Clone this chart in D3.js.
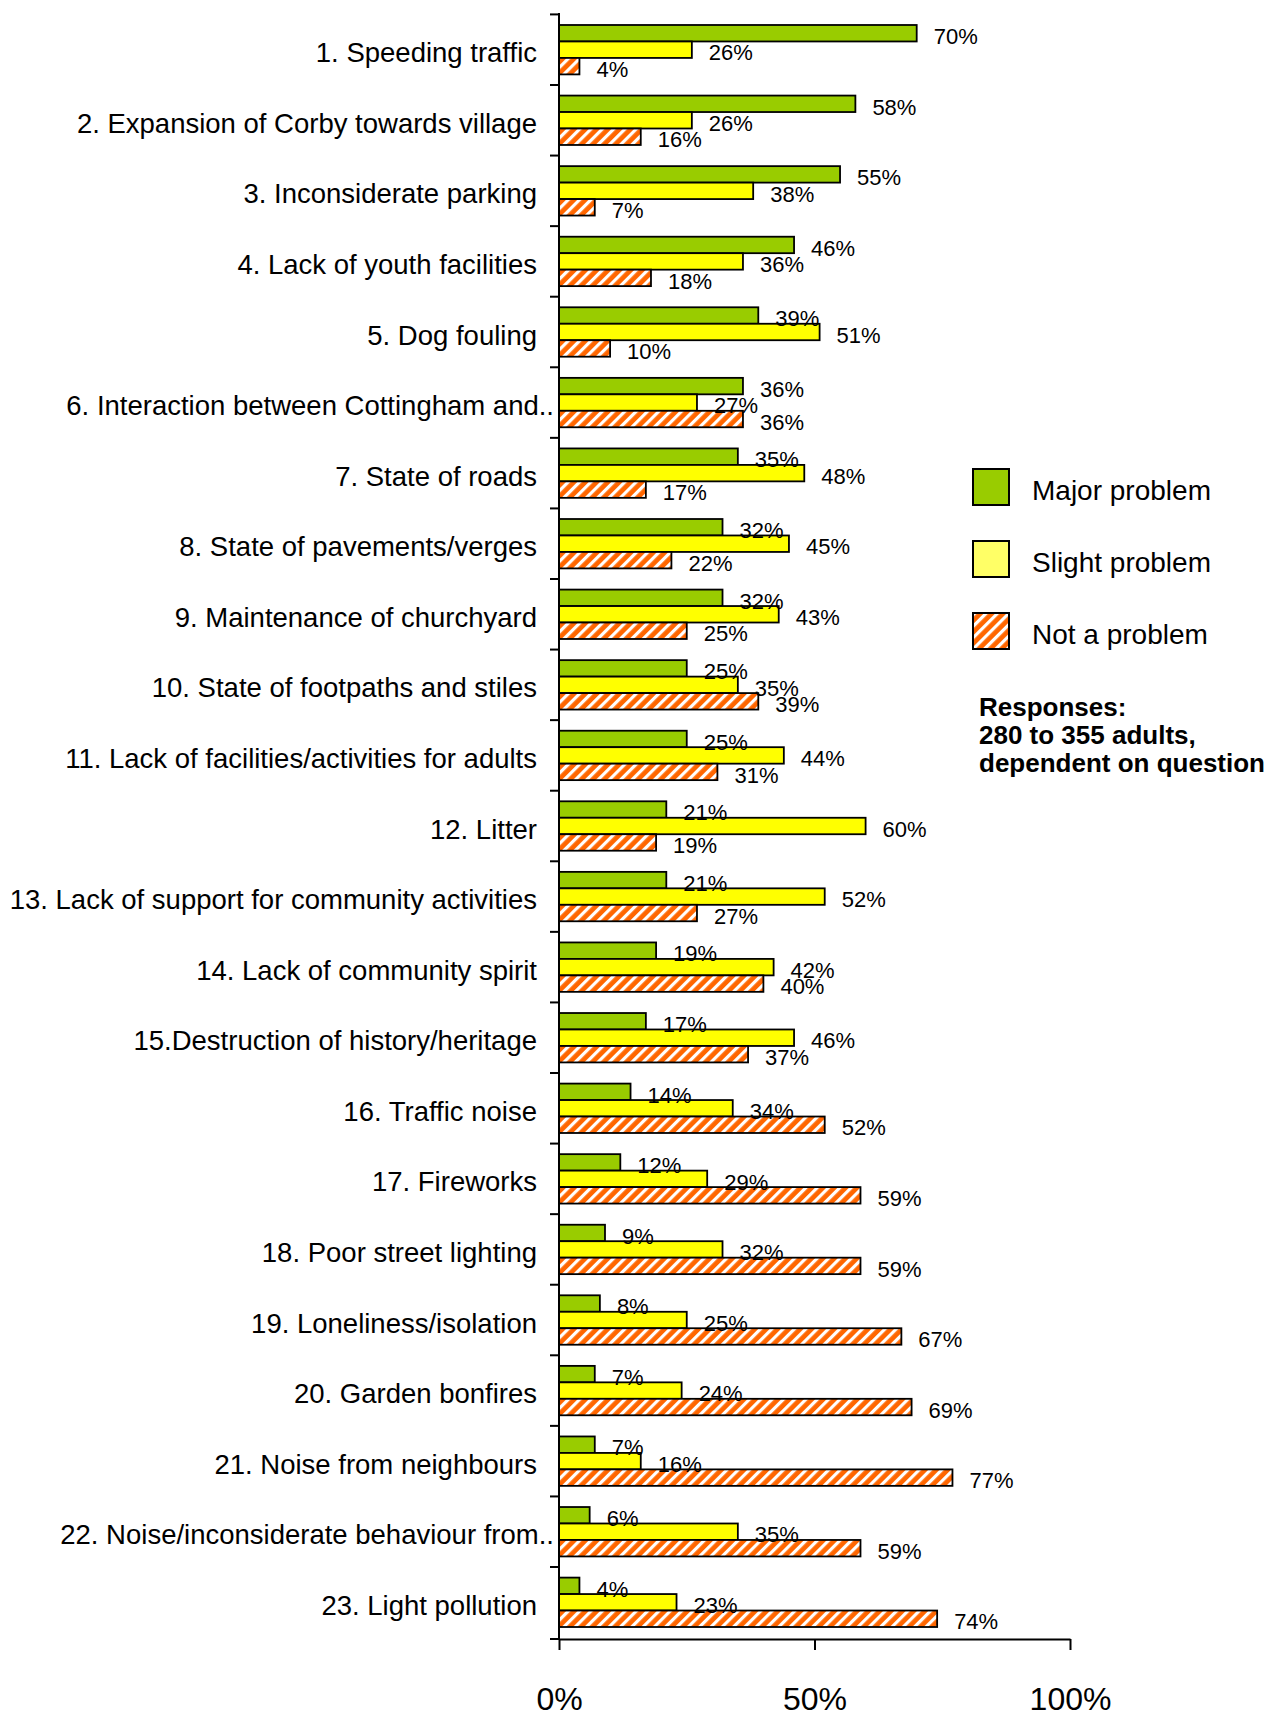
<!DOCTYPE html>
<html>
<head>
<meta charset="utf-8">
<script src="https://cdn.jsdelivr.net/npm/d3@7/dist/d3.min.js"></script>
<style>
  body { margin: 0; background: #fff; }
  svg { display: block; font-family: Arial, "Liberation Sans", sans-serif; }
  .cat-label { font-size: 27.5px; fill: #000; }
  .val-label { font-size: 22px; fill: #000; }
  .legend-label { font-size: 28px; fill: #000; }
  .note { font-size: 26px; font-weight: bold; fill: #000; }
  .x-axis text { font-size: 32px; fill: #000; font-family: Arial, "Liberation Sans", sans-serif; }
  .x-axis path, .x-axis line { stroke: #000; stroke-width: 2px; }
</style>
</head>
<body>
<svg id="chart"></svg>
<script>
const categories = [
  '1. Speeding traffic',
  '2. Expansion of Corby towards village',
  '3. Inconsiderate parking',
  '4. Lack of youth facilities',
  '5. Dog fouling',
  '6. Interaction between Cottingham and..',
  '7. State of roads',
  '8. State of pavements/verges',
  '9. Maintenance of churchyard',
  '10. State of footpaths and stiles',
  '11. Lack of facilities/activities for adults',
  '12. Litter',
  '13. Lack of support for community activities',
  '14. Lack of community spirit',
  '15.Destruction of history/heritage',
  '16. Traffic noise',
  '17. Fireworks',
  '18. Poor street lighting',
  '19. Loneliness/isolation',
  '20. Garden bonfires',
  '21. Noise from neighbours',
  '22. Noise/inconsiderate behaviour from..',
  '23. Light pollution'
];
const majorProblem = [70, 58, 55, 46, 39, 36, 35, 32, 32, 25, 25, 21, 21, 19, 17, 14, 12, 9, 8, 7, 7, 6, 4];
const slightProblem = [26, 26, 38, 36, 51, 27, 48, 45, 43, 35, 44, 60, 52, 42, 46, 34, 29, 32, 25, 24, 16, 35, 23];
const notAProblem = [4, 16, 7, 18, 10, 36, 17, 22, 25, 39, 31, 19, 27, 40, 37, 52, 59, 59, 67, 69, 77, 59, 74];
const seriesNames = ['Major problem', 'Slight problem', 'Not a problem'];
const xTicks = [0, 0.5, 1];
const responsesNote = ['Responses:', '280 to 355 adults,', 'dependent on question'];

const W = 1275, H = 1715;
const svg = d3.select('#chart').attr('width', W).attr('height', H);
svg.append('rect').attr('width', W).attr('height', H).attr('fill', '#fff');

// striped fill for "Not a problem"
const defs = svg.append('defs');
const pat = defs.append('pattern')
    .attr('id', 'stripes')
    .attr('patternUnits', 'userSpaceOnUse')
    .attr('width', 8).attr('height', 8)
    .attr('patternTransform', 'rotate(45)');
pat.append('rect').attr('width', 8).attr('height', 8).attr('fill', '#ff6600');
pat.append('rect').attr('width', 3.2).attr('height', 8).attr('fill', '#fff');

const colors = ['#99cc00', '#ffff00', 'url(#stripes)'];
const legendColors = ['#99cc00', '#ffff66', 'url(#stripes)'];

const rows = categories.map((c, i) => ({
  cat: c,
  values: [majorProblem[i], slightProblem[i], notAProblem[i]]
}));

const plot = {left: 559, right: 1070, top: 13, bottom: 1639};

const x = d3.scaleLinear().domain([0, 1]).range([plot.left, plot.right]);
const y = d3.scaleBand()
    .domain(categories)
    .range([plot.top, plot.bottom])
    .paddingInner(0.3)
    .paddingOuter(0.17);
const inner = d3.scaleBand()
    .domain(d3.range(seriesNames.length))
    .range([0, y.bandwidth()]);

// bars
const groups = svg.append('g').selectAll('g')
    .data(rows)
    .join('g')
    .attr('transform', d => 'translate(0,' + y(d.cat) + ')');

groups.selectAll('rect')
    .data(d => d.values)
    .join('rect')
    .attr('x', x(0))
    .attr('y', (v, i) => inner(i))
    .attr('width', v => x(v / 100) - x(0))
    .attr('height', inner.bandwidth())
    .attr('fill', (v, i) => colors[i])
    .attr('stroke', '#000')
    .attr('stroke-width', 1.8);

groups.selectAll('text')
    .data(d => d.values)
    .join('text')
    .attr('class', 'val-label')
    .attr('x', v => x(v / 100) + 17)
    .attr('y', (v, i) => inner(i) + inner.bandwidth() / 2 + 3)
    .attr('dy', '0.35em')
    .text(v => v + '%');

// category labels
svg.append('g').selectAll('text')
    .data(categories)
    .join('text')
    .attr('class', 'cat-label')
    .attr('text-anchor', 'end')
    .attr('x', d => d.endsWith('..') ? 554 : 537)
    .attr('y', d => y(d) + y.bandwidth() / 2 + 3)
    .attr('dy', '0.35em')
    .text(d => d);

// y axis with ticks at category boundaries
const step = y.step();
const bounds = categories.map(c => y(c) - step * y.paddingInner() / 2).concat([plot.bottom]);
svg.append('line')
    .attr('x1', x(0)).attr('x2', x(0))
    .attr('y1', plot.top).attr('y2', plot.bottom)
    .attr('stroke', '#000').attr('stroke-width', 2);
svg.append('g').selectAll('line')
    .data(bounds)
    .join('line')
    .attr('x1', x(0) - 9).attr('x2', x(0))
    .attr('y1', d => d).attr('y2', d => d)
    .attr('stroke', '#000').attr('stroke-width', 2);

// x axis
svg.append('g')
    .attr('class', 'x-axis')
    .attr('transform', 'translate(0,' + plot.bottom + ')')
    .call(d3.axisBottom(x).tickValues(xTicks).tickFormat(d3.format('.0%'))
      .tickSizeInner(11).tickSizeOuter(0).tickPadding(37));

// legend
const legend = svg.append('g').selectAll('g')
    .data(seriesNames)
    .join('g')
    .attr('transform', (d, i) => 'translate(973,' + (469 + i * 72) + ')');
legend.append('rect')
    .attr('width', 36).attr('height', 36)
    .attr('fill', (d, i) => legendColors[i])
    .attr('stroke', '#000').attr('stroke-width', 2);
legend.append('text')
    .attr('class', 'legend-label')
    .attr('x', 59).attr('y', 21)
    .attr('dy', '0.35em')
    .text(d => d);

svg.append('g').selectAll('text')
    .data(responsesNote)
    .join('text')
    .attr('class', 'note')
    .attr('x', 979)
    .attr('y', (d, i) => 716 + i * 28)
    .text(d => d);
</script>
</body>
</html>
